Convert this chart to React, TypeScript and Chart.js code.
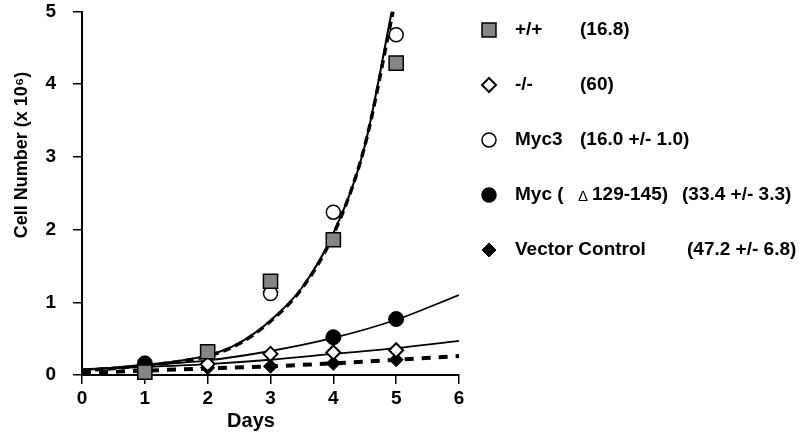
import React, { useEffect, useRef } from "react";
import { Chart, registerables } from "chart.js";

Chart.register(...registerables);

// ---- data ----
const days = [1, 2, 3, 4, 5];

// measured points
const wtY = [0.04, 0.32, 1.29, 1.86, 4.29]; // +/+
const koDays = [2, 3, 4, 5];
const koY = [0.15, 0.29, 0.31, 0.34]; // -/-
const myc3Days = [3, 4, 5];
const myc3Y = [1.12, 2.24, 4.68]; // Myc3
const mycDelDays = [1, 4, 5];
const mycDelY = [0.16, 0.52, 0.77]; // Myc (Δ129-145)
const vecDays = [2, 3, 4, 5];
const vecY = [0.1, 0.12, 0.16, 0.21]; // Vector Control

// fitted growth curves
const wtFitX = [0, 0.5, 1, 1.5, 2, 2.5, 3, 3.5, 4, 4.5, 4.93];
const wtFitY = [0.07, 0.1, 0.14, 0.19, 0.27, 0.44, 0.75, 1.2, 1.95, 3.15, 5.0];
const myc3FitX = [0, 0.5, 1, 1.5, 2, 2.5, 3, 3.5, 4, 4.5, 4.95];
const myc3FitY = [0.06, 0.09, 0.13, 0.18, 0.26, 0.43, 0.74, 1.19, 1.93, 3.15, 5.0];
const fitX = [0, 1, 2, 3, 4, 5, 6];
const mycDelFitY = [0.07, 0.13, 0.2, 0.33, 0.51, 0.76, 1.1];
const koFitY = [0.08, 0.11, 0.15, 0.21, 0.29, 0.37, 0.47];
const vecFitY = [0.03, 0.06, 0.09, 0.12, 0.16, 0.21, 0.26];

// legend texts
const legendNames = ["+/+", "-/-", "Myc3", "Myc (", "Vector Control"];
const legendDelta = "Δ";
const legendDeltaRest = "129-145)";
const legendDoubling = ["(16.8)", "(60)", "(16.0 +/- 1.0)", "(33.4 +/- 3.3)", "(47.2 +/- 6.8)"];

// axis
const xTicks = [0, 1, 2, 3, 4, 5, 6];
const yTicks = [0, 1, 2, 3, 4, 5];
const xTitle = "Days";
const yTitle = "Cell Number (x 10⁶)";

const FONT = '"Liberation Sans", Arial, Helvetica, sans-serif';

const pts = (xs: number[], ys: number[]) => xs.map((x, i) => ({ x, y: ys[i] }));

function drawMarker(ctx: CanvasRenderingContext2D, kind: number, x: number, y: number) {
  ctx.save();
  ctx.lineWidth = 1.5;
  ctx.strokeStyle = "#000";
  ctx.beginPath();
  if (kind === 0) {
    ctx.rect(x - 7, y - 7, 14, 14);
    ctx.fillStyle = "#858585";
    ctx.fill();
    ctx.stroke();
  } else if (kind === 1 || kind === 4) {
    const r = 7;
    ctx.moveTo(x, y - r);
    ctx.lineTo(x + r, y);
    ctx.lineTo(x, y + r);
    ctx.lineTo(x - r, y);
    ctx.closePath();
    ctx.fillStyle = kind === 1 ? "#fff" : "#000";
    ctx.fill();
    ctx.lineWidth = kind === 1 ? 2 : 1;
    ctx.stroke();
  } else {
    ctx.arc(x, y, 7, 0, Math.PI * 2);
    ctx.fillStyle = kind === 2 ? "#fff" : "#000";
    ctx.fill();
    ctx.stroke();
  }
  ctx.restore();
}

const sidePlugin = {
  id: "sideLegend",
  afterDraw(chart: any) {
    const ctx: CanvasRenderingContext2D = chart.ctx;
    ctx.save();
    ctx.fillStyle = "#000";
    ctx.textBaseline = "middle";
    ctx.textAlign = "left";
    const rowY = [30, 85, 140, 195, 250];
    const secondX = [580, 580, 580, 682, 687];
    legendNames.forEach((name, i) => {
      const y = rowY[i];
      drawMarker(ctx, i, 489, y);
      ctx.font = `bold 19px ${FONT}`;
      ctx.fillText(name, 515, y);
      if (i === 3) {
        ctx.font = `normal 15px ${FONT}`;
        ctx.fillText(legendDelta, 578, y + 2);
        ctx.font = `bold 19px ${FONT}`;
        ctx.fillText(legendDeltaRest, 592, y);
      }
      ctx.fillText(legendDoubling[i], secondX[i], y);
    });
    // axis titles
    ctx.font = `bold 20px ${FONT}`;
    ctx.textAlign = "center";
    ctx.textBaseline = "alphabetic";
    ctx.fillText(xTitle, 251, 427);
    ctx.translate(27, 155);
    ctx.rotate(-Math.PI / 2);
    ctx.font = `bold 18px ${FONT}`;
    ctx.fillText(yTitle, 0, 0);
    ctx.restore();
  },
};

export default function App() {
  const ref = useRef<HTMLCanvasElement | null>(null);
  useEffect(() => {
    if (!ref.current) return;
    const markerBase = { showLine: false, clip: false as any, order: 0, borderColor: "#000" };
    const lineBase = {
      showLine: true,
      pointRadius: 0,
      borderColor: "#000",
      backgroundColor: "#000",
      cubicInterpolationMode: "monotone" as const,
      order: 1,
    };
    const chart = new Chart(ref.current, {
      type: "scatter",
      data: {
        datasets: [
          { ...markerBase, label: "+/+", data: pts(days, wtY), pointStyle: "rect", pointRadius: 10, backgroundColor: "#858585", borderWidth: 1.5 },
          { ...markerBase, label: "Myc3", data: pts(myc3Days, myc3Y), pointStyle: "circle", pointRadius: 7, backgroundColor: "#fff", borderWidth: 1.5 },
          { ...markerBase, label: "-/-", data: pts(koDays, koY), pointStyle: "rectRot", pointRadius: 7, backgroundColor: "#fff", borderWidth: 2 },
          { ...markerBase, label: "Myc Δ", data: pts(mycDelDays, mycDelY), pointStyle: "circle", pointRadius: 7.5, backgroundColor: "#000", borderWidth: 1 },
          { ...markerBase, label: "Vector", data: pts(vecDays, vecY), pointStyle: "rectRot", pointRadius: 7, backgroundColor: "#000", borderWidth: 1 },
          { ...lineBase, label: "+/+ fit", data: pts(wtFitX, wtFitY), borderWidth: 2 },
          { ...lineBase, label: "Myc3 fit", data: pts(myc3FitX, myc3FitY), borderWidth: 3.5, borderDash: [8, 5] },
          { ...lineBase, label: "Myc Δ fit", data: pts(fitX, mycDelFitY), borderWidth: 1.8 },
          { ...lineBase, label: "-/- fit", data: pts(fitX, koFitY), borderWidth: 1.8 },
          { ...lineBase, label: "Vector fit", data: pts(fitX, vecFitY), borderWidth: 4, borderDash: [9, 8] },
        ],
      },
      options: {
        animation: false,
        responsive: true,
        maintainAspectRatio: false,
        layout: { padding: { left: 0, right: 341, top: 9, bottom: 0 } },
        plugins: { legend: { display: false }, tooltip: { enabled: false } },
        scales: {
          x: {
            type: "linear",
            min: 0,
            max: 6,
            afterBuildTicks: (s: any) => { s.ticks = xTicks.map((v) => ({ value: v })); },
            afterFit: (s: any) => { s.height = 58; s.paddingLeft = 0; s.paddingRight = 0; },
            grid: { drawOnChartArea: false, color: "#000", lineWidth: 1.5, tickLength: 9 },
            border: { color: "#000", width: 2 },
            ticks: { color: "#000", font: { family: FONT, size: 19, weight: "bold" }, padding: 3, maxRotation: 0 },
          },
          y: {
            type: "linear",
            min: 0,
            max: 5,
            afterBuildTicks: (s: any) => { s.ticks = yTicks.map((v) => ({ value: v })); },
            afterFit: (s: any) => { s.width = 82; s.paddingTop = 0; s.paddingBottom = 0; },
            grid: { drawOnChartArea: false, color: "#000", lineWidth: 1.5, tickLength: 9 },
            border: { color: "#000", width: 2 },
            ticks: { color: "#000", font: { family: FONT, size: 19, weight: "bold" }, padding: 17 },
          },
        },
      },
      plugins: [sidePlugin],
    });
    return () => chart.destroy();
  }, []);
  return (
    <div style={{ position: "absolute", left: 0, top: 0, width: 800, height: 433, background: "#fff" }}>
      <canvas ref={ref} />
    </div>
  );
}
